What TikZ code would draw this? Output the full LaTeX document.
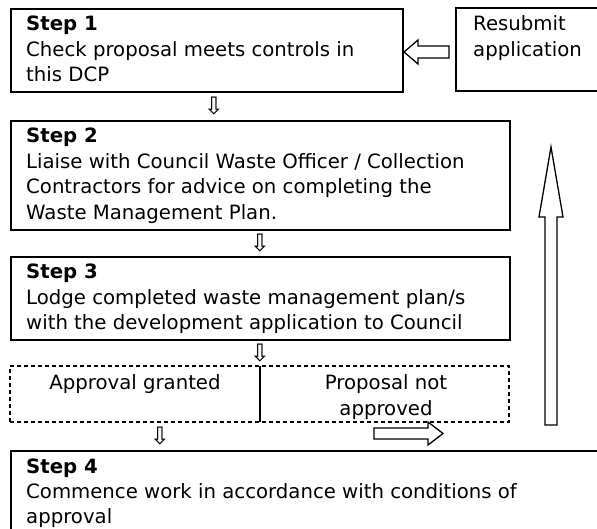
\documentclass[tikz,border=0pt]{standalone}
\usepackage{fontspec}
\setmainfont{DejaVu Sans}
\usetikzlibrary{fit}
\tikzset{
  boxline/.style={draw=black, line width=1.7pt, inner sep=0pt},
  dashline/.style={draw=black, line width=1.5pt, dash pattern=on 4pt off 3pt, inner sep=0pt},
  txt/.style={anchor=base west, inner sep=0pt, font=\fontsize{19.7}{23}\selectfont},
  ctxt/.style={anchor=base, inner sep=0pt, font=\fontsize{19.7}{23}\selectfont},
  btxt/.style={txt, font=\fontsize{19.7}{23}\selectfont\bfseries},
  darr/.style={inner sep=0pt, font=\fontsize{24}{24}\selectfont},
  hollow/.style={draw=black, line width=1.3pt, fill=white, line join=miter},
}
\begin{document}
\begin{tikzpicture}[x=1pt, y=-1pt]
\useasboundingbox (0,0) rectangle (597,529);
\begin{scope}
\clip (0,0) rectangle (597,529);
% boxes
\node[boxline, fit={(11,9) (403,92)}] (s1) {};
\node[boxline, fit={(456,8) (620,91)}] (rs) {};
\node[boxline, fit={(11,121) (510,230)}] (s2) {};
\node[boxline, fit={(11,257) (510,340)}] (s3) {};
\node[dashline, fit={(10,366) (509,422)}] (dec) {};
\draw[line width=1.7pt] (260,366) coordinate (dtop) -- (260,422) coordinate (dbot);
\node[boxline, fit={(11,451) (620,560)}] (s4) {};

% texts
\node[btxt] (t1a) at (26,31) {Step 1};
\node[txt] (t1b) at (26,57) {Check proposal meets controls in};
\node[txt] (t1c) at (26,82) {this DCP};

\node[txt] (tra) at (473,31) {Resubmit};
\node[txt] (trb) at (473,57) {application};

\node[btxt] (t2a) at (26,143) {Step 2};
\node[txt] (t2b) at (26,169) {Liaise with Council Waste Officer / Collection};
\node[txt] (t2c) at (26,194) {Contractors for advice on completing the};
\node[txt] (t2d) at (26,220) {Waste Management Plan.};

\node[btxt] (t3a) at (26,279) {Step 3};
\node[txt] (t3b) at (26,305) {Lodge completed waste management plan/s};
\node[txt] (t3c) at (26,330) {with the development application to Council};

\node[ctxt] (tag) at (135,389) {Approval granted};
\node[ctxt] (tpa) at (386,389) {Proposal not};
\node[ctxt] (tpb) at (386,415) {approved};

\node[btxt] (t4a) at (26,473) {Step 4};
\node[txt] (t4b) at (26,498) {Commence work in accordance with conditions of};
\node[txt] (t4c) at (26,523) {approval};

% small down arrows
\node[darr] (d1) at (214,106) {⇩};
\node[darr] (d2) at (260,243) {⇩};
\node[darr] (d3) at (260,353) {⇩};
\node[darr] (d4) at (160,436) {⇩};

% hollow block arrows
% left arrow: resubmit -> step 1
\draw[hollow] (449,46) coordinate (la1) -- (418,46) -- (418,40) -- (404,52) coordinate (latip) -- (418,64) -- (418,58) -- (449,58) -- cycle;
% right arrow: not approved -> up
\draw[hollow] (374,428) coordinate (ra1) -- (428,428) -- (428,422) -- (443,433.5) coordinate (ratip) -- (428,445) -- (428,439) -- (374,439) -- cycle;
% big up arrow
\draw[hollow] (545,425) coordinate (ua1) -- (545,217) -- (539,217) -- (551,147) coordinate (uatip) -- (563,217) -- (557,217) -- (557,425) -- cycle;
\end{scope}
\end{tikzpicture}
\end{document}
